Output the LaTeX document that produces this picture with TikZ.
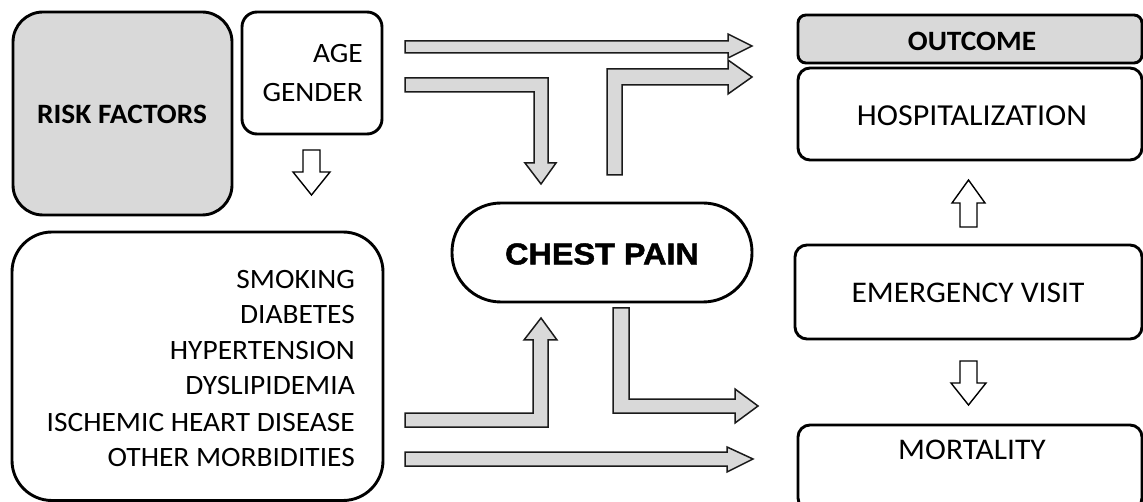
\documentclass[tikz,border=0pt]{standalone}
\usepackage{fontspec}
\setmainfont[FakeStretch=1.05]{Carlito}
\newfontfamily\chestfont[FakeStretch=1.08,BoldFeatures={FakeBold=1.6}]{Liberation Sans}
\definecolor{fillgray}{HTML}{D9D9D9}
\definecolor{edgegray}{HTML}{1A1A1A}
\begin{document}
\begin{tikzpicture}[x=1pt,y=-1pt,
  box/.style={draw=black, line width=2.9pt, rounded corners=#1, inner sep=0pt, rectangle},
  graybox/.style={box=#1, fill=fillgray},
  blockarrow/.style={draw=edgegray, line width=1.5pt, fill=fillgray, line join=miter},
  hollowarrow/.style={draw=black, line width=1.4pt, fill=white, line join=miter},
  txt/.style={font=\fontsize{28}{35.5}\selectfont, inner sep=0pt},
  btxt/.style={font=\fontsize{28}{32}\selectfont\bfseries, inner sep=0pt}
]
\useasboundingbox (0,0) rectangle (1143,502);
\clip (0,0) rectangle (1143,502);

% boxes
\node[graybox=30, minimum width=219pt, minimum height=203pt] (risk) at (122.5,113.5) {};
\node[btxt] (risklbl) at (122,114) {RISK FACTORS};
\node[box=15, minimum width=140pt, minimum height=122pt] (age) at (312,73) {};
\node[txt, anchor=base east] (agelbl) at (363,63) {AGE};
\node[txt, anchor=base east] (genderlbl) at (363,102) {GENDER};
\node[box=40, minimum width=371pt, minimum height=268.5pt] (big) at (197.5,366.25) {};
\node[txt, anchor=base east] (l1) at (355,289) {SMOKING};
\node[txt, anchor=base east] (l2) at (355,324) {DIABETES};
\node[txt, anchor=base east] (l3) at (355,359.5) {HYPERTENSION};
\node[txt, anchor=base east] (l4) at (355,395) {DYSLIPIDEMIA};
\node[txt, anchor=base east] (l5) at (355,431) {ISCHEMIC HEART DISEASE};
\node[txt, anchor=base east] (l6) at (355,466) {OTHER MORBIDITIES};

\node[box=49, minimum width=300pt, minimum height=99pt] (chest) at (602,252.5) {};
\node[inner sep=0pt, font=\chestfont\fontsize{30}{34}\selectfont\bfseries] (chestlbl) at (602,254) {CHEST PAIN};

\node[graybox=8, minimum width=344pt, minimum height=48pt] (outcome) at (970,39) {};
\node[btxt] (outlbl) at (972,41) {OUTCOME};
\node[box=12, minimum width=344pt, minimum height=92pt] (hosp) at (970,114) {};
\node[txt, font=\fontsize{30.5}{34}\selectfont] (hosplbl) at (972,116) {HOSPITALIZATION};
\node[box=12, minimum width=347pt, minimum height=94pt] (emerg) at (968.5,292) {};
\node[txt, font=\fontsize{30}{34}\selectfont] (emerglbl) at (968,293) {EMERGENCY VISIT};
\node[box=12, minimum width=344pt, minimum height=85pt] (mort) at (970,467.5) {};
\node[txt, font=\fontsize{30}{34}\selectfont] (mortlbl) at (972,450) {MORTALITY};

% gray block arrows
\draw[blockarrow] (405,41) -- (728,41) -- (728,34) -- (752,46) -- (728,58) -- (728,53) -- (405,53) -- cycle;
\draw[blockarrow] (405,78) -- (548,78) -- (548,163) -- (556,163) -- (541,184) -- (525,163) -- (534,163) -- (534,92) -- (405,92) -- cycle;
\draw[blockarrow] (607,175) -- (607,69) -- (728,69) -- (728,60) -- (752,77) -- (728,94) -- (728,85) -- (622,85) -- (622,175) -- cycle;
\draw[blockarrow] (405,413) -- (533,413) -- (533,340) -- (524,340) -- (541,318) -- (557,340) -- (548,340) -- (548,427) -- (405,427) -- cycle;
\draw[blockarrow] (613,308) -- (629,308) -- (629,399) -- (735,399) -- (735,389) -- (758,406) -- (735,423) -- (735,413) -- (613,413) -- cycle;
\draw[blockarrow] (405,452) -- (727,452) -- (727,447) -- (753,459) -- (727,472) -- (727,466) -- (405,466) -- cycle;

% hollow arrows
\draw[hollowarrow] (303,150) -- (320,150) -- (320,172) -- (330,172) -- (311.5,195) -- (293,172) -- (303,172) -- cycle;
\draw[hollowarrow] (960,227) -- (977,227) -- (977,203) -- (985,203) -- (968.5,180) -- (952,203) -- (960,203) -- cycle;
\draw[hollowarrow] (960,361) -- (977,361) -- (977,383) -- (986,383) -- (968.5,405) -- (951,383) -- (960,383) -- cycle;
\end{tikzpicture}
\end{document}
